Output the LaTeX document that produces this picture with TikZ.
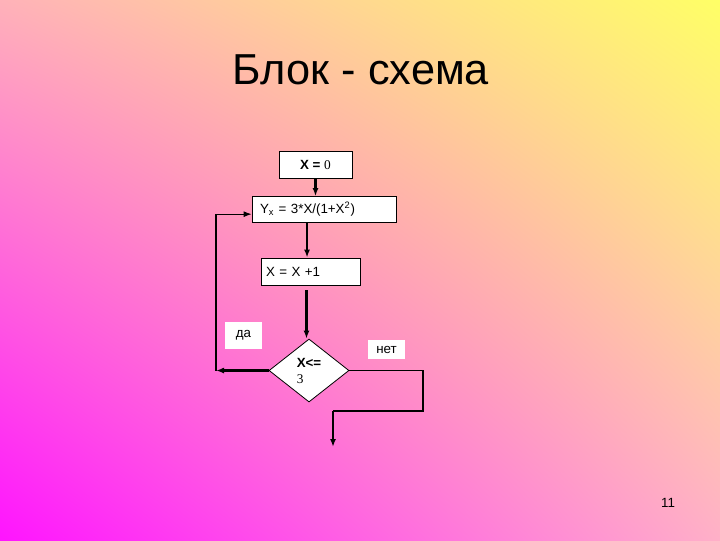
\documentclass[tikz,border=0pt]{standalone}
\usepackage{fontspec}
\setmainfont{Liberation Sans}
\newfontfamily\serifnum{Liberation Serif}
\usepackage{tikz}
\usetikzlibrary{arrows.meta,shapes.geometric,shadings}
\usetikzlibrary{positioning}
\definecolor{bgTL}{RGB}{255,178,185}
\definecolor{bgTR}{RGB}{255,255,102}
\definecolor{bgBL}{RGB}{255,20,255}
\definecolor{bgBR}{RGB}{255,176,200}
\newcommand{\mYx}{Y\textsubscript{x} = 3*X/(1+X\textsuperscript{2})}

\begin{document}
\begin{tikzpicture}[x=0.75pt, y=-0.75pt,
    txt/.style={font=\fontsize{10}{12}\selectfont},
    blok/.style={txt, draw, fill=white, line width=0.6pt, inner sep=0pt},
    tag/.style={txt, fill=white, inner sep=0pt},
    strelka/.style={-{Latex[length=6pt,width=4.5pt]}, line width=1.6pt},
    tonkaja/.style={line width=0.8pt}]
    \shade[upper left=bgTL, upper right=bgTR, lower left=bgBL, lower right=bgBR]
        (0,0) rectangle (720,540);
    \useasboundingbox (0,0) rectangle (720,540);
    \node (title) at (361,70) {\fontsize{32.5}{38}\selectfont Блок - схема};
    \node[blok, minimum width=54.75pt, minimum height=20.25pt] (start) at (315.5,164.5)
        {\textbf{X =} {\serifnum 0}};
    \node[blok, minimum width=108pt, minimum height=19.5pt, inner xsep=6pt, text width=96pt, align=left] (calc) at (324,209.5)
        {\mYx};
    \node[blok, minimum width=74.25pt, minimum height=20.25pt, inner xsep=3.75pt, text width=66.75pt, align=left] (inc) at (310.5,271.5)
        {X = X +1};
    \node[blok, diamond, minimum width=60pt, minimum height=47.25pt, align=left] (dec) at (309,370.5)
        {\textbf{X<=}\\{\serifnum 3}};
    \node[tag, minimum width=27.75pt, minimum height=20.25pt] (yes) at (243.5,335.5) {да};
    \node[tag, minimum width=27.75pt, minimum height=14.25pt] (no) at (386.5,349.5) {нет};
    \node[txt] (page) at (668,503) {11};
    % connectors
    \coordinate (lp) at (216,370.5);
    \coordinate (ne) at (423,411);
    \coordinate (nd) at (333,411);
    \coordinate (fin) at (333,447);
    \draw[strelka] (start.south) -- (start.south |- calc.north);
    \draw[strelka] ([xshift=-2.6pt]inc.north |- calc.south) -- ([xshift=-2.6pt]inc.north);
    \draw[strelka] ([xshift=-3pt,yshift=-3.5pt]inc.south) -- ([xshift=-3pt]inc.south |- dec.north);
    \draw[strelka] (dec.west) -- (lp);
    \draw[tonkaja, -{Latex[length=6pt,width=4.5pt]}] (lp) |- ([yshift=-3.5pt]calc.west);
    \draw[tonkaja] (dec.east) -| (ne) -- (nd);
    \draw[strelka] (nd) -- (fin);
\end{tikzpicture}
\end{document}
